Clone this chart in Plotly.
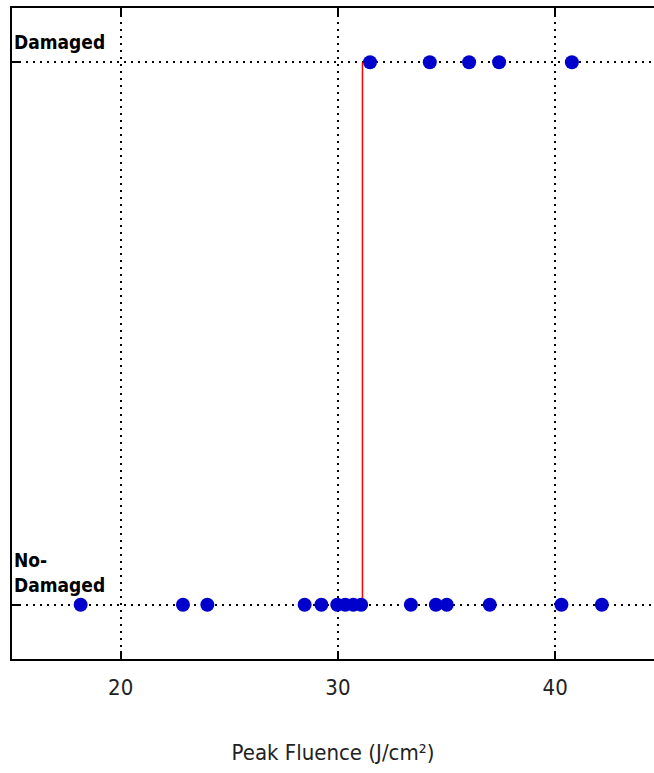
import plotly.graph_objects as go

# Data
damaged_x = [31.48, 34.23, 36.04, 37.42, 40.77]
nodamaged_x = [18.16, 22.87, 23.99, 28.47, 29.24, 29.97, 30.34, 30.71, 31.07,
               33.36, 34.51, 35.01, 36.99, 40.29, 42.15]
threshold_x = 31.13
state_vals = [0, 1]
state_labels = ["No-<br>Damaged", "Damaged"]
x_ticks = [20, 30, 40]
x_range = [15, 44.55]
y_range = [-0.1, 1.1]

FONT = "DejaVu Sans Condensed, DejaVu Sans, sans-serif"
BLUE = "#0000CC"
GRID_DASH = "2px,5px"

fig = go.Figure()
fig.add_trace(go.Scatter(
    x=[threshold_x, threshold_x], y=[state_vals[0], state_vals[1]],
    mode="lines", line=dict(color="#FF0000", width=1.5), hoverinfo="skip"))
fig.add_trace(go.Scatter(
    x=nodamaged_x, y=[state_vals[0]] * len(nodamaged_x), mode="markers",
    marker=dict(color=BLUE, size=14, line=dict(width=0))))
fig.add_trace(go.Scatter(
    x=damaged_x, y=[state_vals[1]] * len(damaged_x), mode="markers",
    marker=dict(color=BLUE, size=14, line=dict(width=0))))

annotations = []
for v, lab in zip(state_vals, state_labels):
    annotations.append(dict(
        x=0, xref="paper", xanchor="left", xshift=0,
        y=v, yref="y", yanchor="bottom", yshift=7,
        text=lab, showarrow=False, align="left",
        font=dict(family=FONT, size=19, color="black", weight="bold")))

fig.update_layout(
    width=654, height=773,
    margin=dict(l=12, r=0, t=8, b=114),
    plot_bgcolor="white", paper_bgcolor="white",
    showlegend=False,
    annotations=annotations,
    xaxis=dict(
        range=x_range, tickvals=x_ticks,
        showgrid=True, gridcolor="black", griddash=GRID_DASH, gridwidth=1.5,
        showline=True, linecolor="black", linewidth=1.5, mirror="ticks",
        ticks="inside", ticklen=8, tickcolor="black", tickwidth=1.5,
        tickfont=dict(family=FONT, size=22, color="#222"),
        ticklabelstandoff=8,
        zeroline=False,
        title=dict(text="Peak Fluence (J/cm²)", standoff=45,
                   font=dict(family=FONT, size=22, color="#222")),
    ),
    yaxis=dict(
        range=y_range, tickvals=state_vals, showticklabels=False,
        showgrid=True, gridcolor="black", griddash=GRID_DASH, gridwidth=1.5,
        showline=True, linecolor="black", linewidth=1.5, mirror=False,
        ticks="inside", ticklen=8, tickcolor="black", tickwidth=1.5,
        zeroline=False,
    ),
)

fig.write_html(
    "out.html",
    config={"displayModeBar": False},
    post_script="document.body.style.margin='0';document.body.style.overflow='hidden';",
)
